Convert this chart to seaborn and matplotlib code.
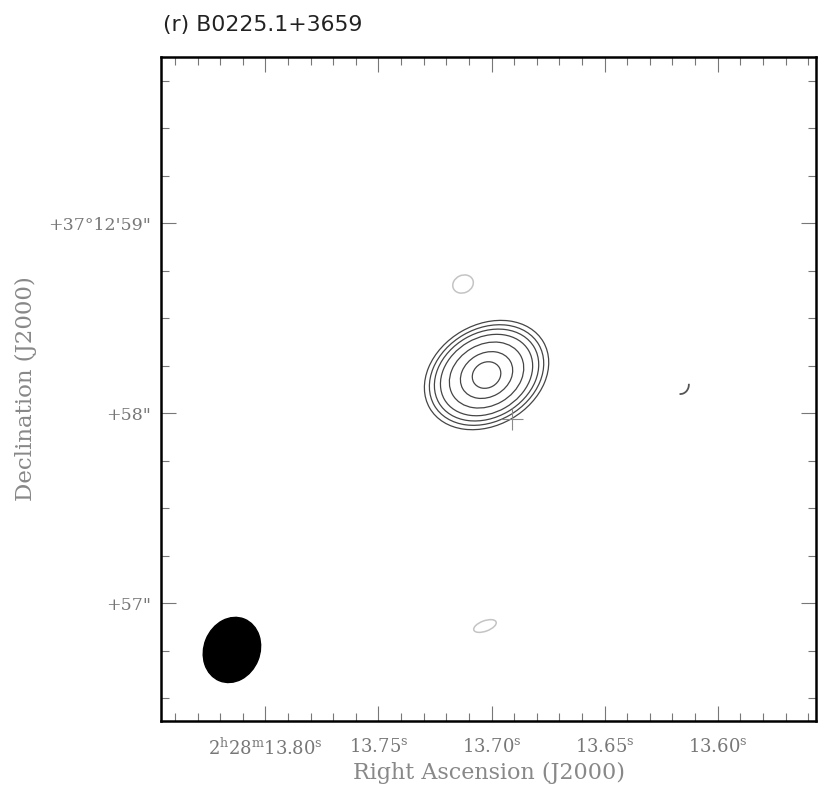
import numpy as np
import pandas as pd
import matplotlib
matplotlib.use("Agg")
import matplotlib.pyplot as plt
from matplotlib.patches import Ellipse, Arc
import seaborn as sns

# ---------------- data ----------------
title = "(r) B0225.1+3659"
ra_ticks = [13.80, 13.75, 13.70, 13.65, 13.60]          # seconds of RA (2h28m)
ra_labels = [r"$2^{\rm h}28^{\rm m}13.80^{\rm s}$", r"$13.75^{\rm s}$",
             r"$13.70^{\rm s}$", r"$13.65^{\rm s}$", r"$13.60^{\rm s}$"]
dec_ticks = [59, 58, 57]                                 # arcsec of Dec (+37d12')
dec_labels = ["+37\u00b012'59\"", "+58\"", "+57\""]

# source contours (arcsec): semi-major / semi-minor, outer -> inner
contour_a = [0.347, 0.319, 0.291, 0.257, 0.207, 0.145, 0.078]
contour_b = [0.265, 0.244, 0.223, 0.198, 0.161, 0.115, 0.067]
source_ra, source_dec, source_pa = 13.7022, 58.20, 30

# faint (lowest / negative) contours: ra, dec, width, height, angle
faint_ra = [13.7126, 13.7029]
faint_dec = [58.679, 56.879]
faint_w = [0.112, 0.125]
faint_h = [0.092, 0.055]
faint_ang = [25, 20]

# tiny contour fragment
frag_ra, frag_dec = 13.6165, 58.150

# optical position cross
cross_ra, cross_dec = 13.6910, 57.968

# restoring beam
beam_ra, beam_dec, beam_major, beam_minor, beam_pa = 13.8148, 56.753, 0.350, 0.295, 68

# ---------------- helpers ----------------
dec0 = 37 + 12 / 60 + 58 / 3600
k = 15 * np.cos(np.radians(dec0))   # arcsec per second of RA


def xpos(ra):
    return (13.70 - np.asarray(ra)) * k


def ypos(dec):
    return np.asarray(dec) - 58.0


sns.set_theme(style="white")
plt.rcParams["font.family"] = ["DejaVu Sans"]
plt.rcParams["mathtext.fontset"] = "dejavuserif"

fig = plt.figure(figsize=(8.3, 7.95), dpi=100)
ax = fig.add_axes([161 / 830, 1 - 721 / 795, 655 / 830, 664 / 795])

# source contours
cx, cy = xpos(source_ra), ypos(source_dec)
for a, b in zip(contour_a, contour_b):
    ax.add_patch(Ellipse((cx, cy), 2 * a, 2 * b, angle=source_pa, fill=False,
                         edgecolor="#454545", linewidth=0.9))

# faint contours
for r, d, w, h, an in zip(faint_ra, faint_dec, faint_w, faint_h, faint_ang):
    ax.add_patch(Ellipse((xpos(r), ypos(d)), w, h, angle=an, fill=False,
                         edgecolor="#c4c4c4", linewidth=1.1))

# fragment
ax.add_patch(Arc((xpos(frag_ra), ypos(frag_dec)), 0.09, 0.10, theta1=265, theta2=5,
                 edgecolor="#555555", linewidth=1.3))

# beam
ax.add_patch(Ellipse((xpos(beam_ra), ypos(beam_dec)), beam_major, beam_minor,
                     angle=beam_pa, facecolor="black", edgecolor="black"))

# cross
cross_df = pd.DataFrame({"x": [xpos(cross_ra)], "y": [ypos(cross_dec)]})
sns.scatterplot(data=cross_df, x="x", y="y", marker="+", s=260, color="#8a8a8a",
                linewidth=0.8, ax=ax, legend=False)

ax.set_xlim(-1.746, 1.714)
ax.set_ylim(-1.621, 1.874)

# ticks
ax.set_xticks(xpos(ra_ticks))
ax.set_xticklabels(ra_labels)
ax.set_xticks(xpos(np.arange(13.84, 13.55, -0.01)), minor=True)
ax.set_yticks(ypos(dec_ticks))
ax.set_yticklabels(dec_labels)
ax.set_yticks(ypos(np.arange(56.5, 60.0, 0.25)), minor=True)
ax.tick_params(which="both", direction="in", top=True, right=True, bottom=True, left=True,
               color="#777777", width=0.8, labelcolor="#777777")
ax.tick_params(which="major", length=11)
ax.tick_params(which="minor", length=6)
ax.tick_params(axis="x", which="major", labelsize=13, pad=12)
ax.tick_params(axis="y", which="major", labelsize=12.5, pad=7)
for lab in ax.get_yticklabels() + ax.get_xticklabels():
    lab.set_fontfamily("DejaVu Serif")

for sp in ax.spines.values():
    sp.set_visible(True)
    sp.set_color("black")
    sp.set_linewidth(1.8)

ax.set_xlabel("Right Ascension (J2000)", fontsize=16, color="#888888",
              fontfamily="DejaVu Serif", labelpad=2)
ax.set_ylabel("Declination (J2000)", fontsize=16.5, color="#888888",
              fontfamily="DejaVu Serif", labelpad=8)

fig.text(163 / 830, 1 - 25 / 795, title, ha="left", va="center", fontsize=15.8,
         color="#222222")

fig.savefig("out.png", dpi=100, facecolor="white")
